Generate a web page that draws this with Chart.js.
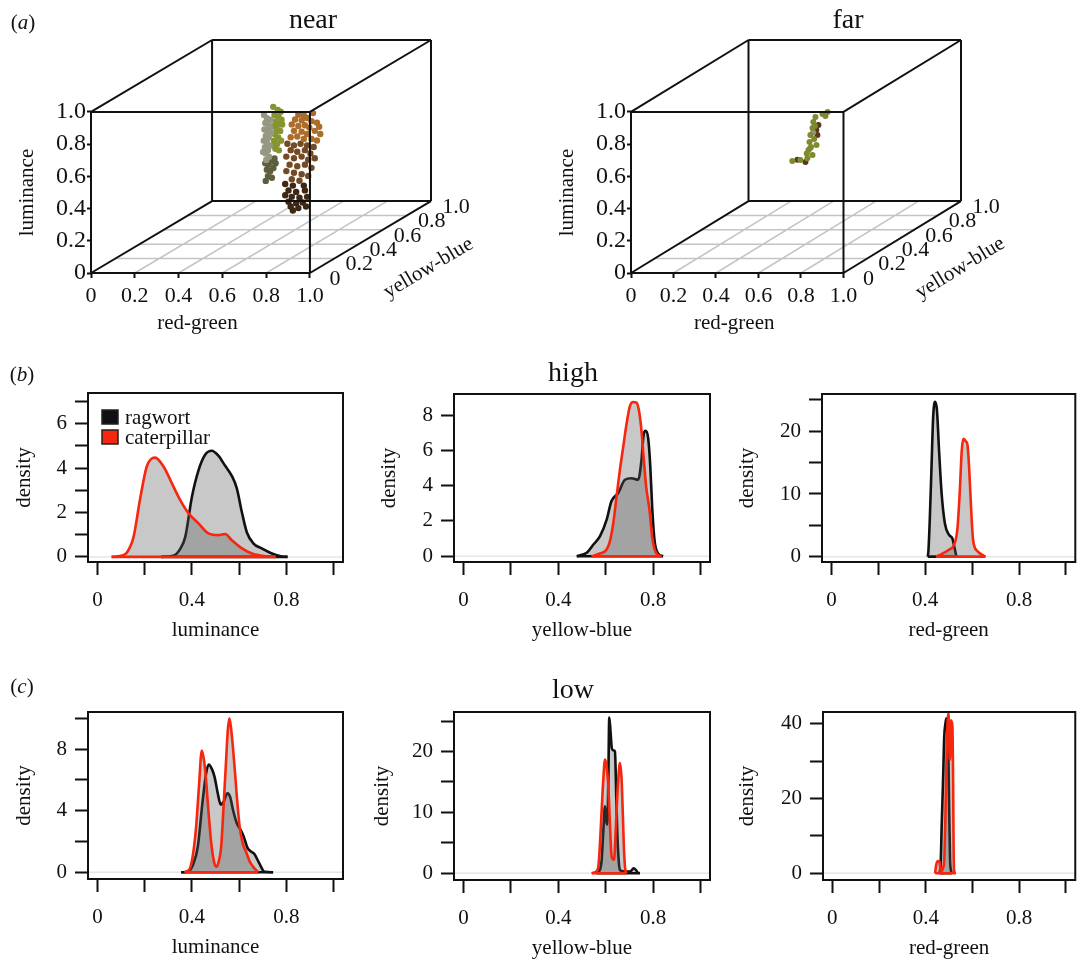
<!DOCTYPE html>
<html>
<head>
<meta charset="utf-8">
<script src="https://cdn.jsdelivr.net/npm/chart.js@4.4.1/dist/chart.umd.min.js"></script>
<style>
  body { margin: 0; background: #fff; }
  #fig { position: relative; width: 1079px; height: 962px; background: #fff;
         font-family: "Liberation Serif", "Times New Roman", serif; color: #111; overflow: hidden; }
  #fig canvas { position: absolute; }
  .lbl { position: absolute; white-space: nowrap; transform: translate(-50%, -50%); line-height: 1; }
</style>
</head>
<body>
<div id="fig">
  <canvas id="near" width="540" height="340" style="left:0;top:0"></canvas>
  <canvas id="far" width="539" height="340" style="left:540px;top:0"></canvas>
  <canvas id="highLum" width="360" height="300" style="left:0;top:360px"></canvas>
  <canvas id="highYB" width="360" height="300" style="left:360px;top:360px"></canvas>
  <canvas id="highRG" width="359" height="300" style="left:720px;top:360px"></canvas>
  <canvas id="lowLum" width="360" height="282" style="left:0;top:680px"></canvas>
  <canvas id="lowYB" width="360" height="282" style="left:360px;top:680px"></canvas>
  <canvas id="lowRG" width="359" height="282" style="left:720px;top:680px"></canvas>

  <div class="lbl" style="left:23px;top:22px;font-size:21px">(<i>a</i>)</div>
  <div class="lbl" style="left:313px;top:19px;font-size:28px">near</div>
  <div class="lbl" style="left:848px;top:19px;font-size:28px">far</div>
  <div class="lbl" style="left:22px;top:374px;font-size:21px">(<i>b</i>)</div>
  <div class="lbl" style="left:573px;top:372px;font-size:28px">high</div>
  <div class="lbl" style="left:22px;top:686px;font-size:21px">(<i>c</i>)</div>
  <div class="lbl" style="left:573px;top:689px;font-size:28px">low</div>
</div>

<script>
// ---- data ----
const seriesNames = ["ragwort", "caterpillar"];
const cubeTicks = [0, 0.2, 0.4, 0.6, 0.8, 1.0];
const floorLines = [0.2, 0.4, 0.6, 0.8];
const xTickValues = [0, 0.2, 0.4, 0.6, 0.8, 1.0];
const xTickLabelled = [0, 0.4, 0.8];

// 3D colour samples: [red-green, yellow-blue, luminance]
const nearRagwortPale = [
  [0.392,0.72,0.66],[0.405,0.72,0.64],[0.398,0.72,0.61],[0.412,0.72,0.60],[0.394,0.72,0.57],
  [0.408,0.72,0.56],[0.42,0.72,0.58],[0.40,0.72,0.53],[0.414,0.72,0.52],[0.391,0.72,0.50],
  [0.405,0.72,0.49],[0.418,0.72,0.47],[0.396,0.72,0.46],[0.41,0.72,0.44],[0.40,0.72,0.42],
  [0.388,0.72,0.43],[0.415,0.72,0.40],[0.402,0.72,0.38],[0.425,0.72,0.55],[0.422,0.72,0.63]
];
const nearRagwortGreen = [
  [0.434,0.72,0.71],[0.455,0.72,0.69],[0.468,0.72,0.68],[0.44,0.72,0.66],[0.458,0.72,0.65],
  [0.472,0.72,0.63],[0.445,0.72,0.62],[0.46,0.72,0.60],[0.435,0.72,0.59],[0.45,0.72,0.57],
  [0.466,0.72,0.56],[0.442,0.72,0.54],[0.457,0.72,0.52],[0.47,0.72,0.50],[0.438,0.72,0.50],
  [0.452,0.72,0.48],[0.444,0.72,0.45],[0.46,0.72,0.44],[0.432,0.72,0.47],[0.475,0.72,0.60]
];
const nearRagwortDark = [
  [0.398,0.72,0.36],[0.412,0.72,0.35],[0.425,0.72,0.37],[0.44,0.72,0.39],[0.405,0.72,0.32],
  [0.42,0.72,0.31],[0.435,0.72,0.33],[0.41,0.72,0.28],[0.428,0.72,0.27],[0.40,0.72,0.25],
  [0.445,0.72,0.36]
];
const nearCaterpillarOrange = [
  [0.627,0.70,0.68],[0.56,0.70,0.67],[0.585,0.70,0.665],[0.60,0.70,0.65],[0.545,0.70,0.64],
  [0.575,0.70,0.635],[0.62,0.70,0.63],[0.645,0.70,0.62],[0.53,0.70,0.61],[0.56,0.70,0.60],
  [0.59,0.70,0.605],[0.61,0.70,0.59],[0.655,0.70,0.595],[0.54,0.70,0.57],[0.575,0.70,0.565],
  [0.635,0.70,0.57],[0.60,0.70,0.55],[0.66,0.70,0.55],[0.525,0.70,0.53],[0.555,0.70,0.535],
  [0.62,0.70,0.52],[0.645,0.70,0.51],[0.585,0.70,0.52]
];
const nearCaterpillarBrown = [
  [0.51,0.70,0.49],[0.54,0.70,0.48],[0.57,0.70,0.49],[0.60,0.70,0.48],[0.63,0.70,0.47],
  [0.525,0.70,0.45],[0.555,0.70,0.44],[0.59,0.70,0.45],[0.615,0.70,0.43],[0.505,0.70,0.41],
  [0.54,0.70,0.40],[0.575,0.70,0.41],[0.605,0.70,0.39],[0.635,0.70,0.40],[0.52,0.70,0.36],
  [0.555,0.70,0.35],[0.59,0.70,0.36],[0.62,0.70,0.34],[0.505,0.70,0.32],[0.54,0.70,0.31],
  [0.575,0.70,0.30],[0.605,0.70,0.29],[0.53,0.70,0.27],[0.565,0.70,0.26]
];
const nearCaterpillarDark = [
  [0.50,0.70,0.24],[0.535,0.70,0.23],[0.585,0.70,0.23],[0.515,0.70,0.20],[0.55,0.70,0.19],
  [0.59,0.70,0.20],[0.50,0.70,0.17],[0.53,0.70,0.16],[0.565,0.70,0.155],[0.60,0.70,0.16],
  [0.515,0.70,0.13],[0.55,0.70,0.12],[0.58,0.70,0.125],[0.525,0.70,0.10],[0.56,0.70,0.09],
  [0.535,0.70,0.075],[0.595,0.70,0.10]
];
const farGreen = [
  [0.372,0.7,0.383],[0.41,0.7,0.389],[0.443,0.7,0.40],[0.448,0.7,0.451],[0.453,0.7,0.50],
  [0.457,0.7,0.544],[0.467,0.7,0.588],[0.471,0.7,0.625],[0.481,0.7,0.656],[0.486,0.7,0.482],
  [0.467,0.7,0.42],[0.514,0.7,0.675],[0.538,0.7,0.687],[0.528,0.7,0.662],[0.46,0.7,0.47],
  [0.475,0.7,0.52],[0.478,0.7,0.60],[0.44,0.7,0.43]
];
const farBrown = [[0.495,0.7,0.606],[0.49,0.7,0.544],[0.396,0.7,0.39],[0.434,0.7,0.376],[0.485,0.7,0.575]];
const farPale = [[0.47,0.7,0.56],[0.455,0.7,0.46]];

// density curves: [value, density]
const highLuminanceRagwort = [[0.27,0],[0.32,0.05],[0.35,0.35],[0.372,0.9],[0.4,2.7],[0.428,3.9],[0.456,4.6],[0.484,4.78],[0.513,4.55],[0.541,4.1],[0.569,3.65],[0.59,3.1],[0.612,2.0],[0.633,1.1],[0.661,0.6],[0.696,0.38],[0.739,0.15],[0.78,0.02],[0.805,0]];
const highLuminanceCaterpillar = [[0.06,0],[0.1,0.05],[0.125,0.2],[0.153,0.9],[0.18,2.57],[0.209,4.07],[0.244,4.47],[0.28,4.07],[0.315,3.32],[0.35,2.57],[0.386,1.96],[0.428,1.51],[0.47,1.06],[0.513,0.98],[0.541,1.03],[0.569,0.75],[0.612,0.38],[0.654,0.15],[0.71,0.03],[0.755,0]];
const highYellowBlueRagwort = [[0.478,0],[0.52,0.19],[0.548,0.66],[0.576,1.13],[0.604,2.07],[0.624,3.11],[0.653,3.58],[0.681,4.33],[0.709,4.42],[0.737,4.33],[0.751,5.46],[0.76,6.9],[0.768,7.1],[0.779,6.7],[0.788,5.1],[0.796,2.8],[0.806,0.9],[0.821,0.16],[0.842,0]];
const highYellowBlueCaterpillar = [[0.541,0],[0.576,0.15],[0.604,0.38],[0.618,0.85],[0.632,1.88],[0.646,3.4],[0.66,4.9],[0.674,6.2],[0.688,7.5],[0.702,8.5],[0.716,8.74],[0.73,8.7],[0.741,8.2],[0.751,7.1],[0.76,5.6],[0.771,3.9],[0.785,2.6],[0.796,1.1],[0.806,0.4],[0.817,0.1],[0.835,0]];
const highRedGreenRagwort = [[0.411,0],[0.414,1.07],[0.42,6.4],[0.427,14.4],[0.434,22.3],[0.442,24.7],[0.45,23.4],[0.459,17.0],[0.47,10.1],[0.484,5.3],[0.501,3.5],[0.516,2.9],[0.524,1.6],[0.533,0]];
const highRedGreenCaterpillar = [[0.446,0],[0.474,0.5],[0.501,1.1],[0.523,1.9],[0.537,4.3],[0.547,10.1],[0.556,17.0],[0.563,18.8],[0.573,18.4],[0.58,17.9],[0.587,14.4],[0.596,7.5],[0.604,2.7],[0.622,0.9],[0.643,0.3],[0.657,0]];
const lowLuminanceRagwort = [[0.355,0],[0.385,0.05],[0.405,0.5],[0.425,1.66],[0.446,4.7],[0.46,6.4],[0.471,7.0],[0.485,6.7],[0.496,6.2],[0.51,5.1],[0.522,4.4],[0.535,4.6],[0.55,5.13],[0.562,4.9],[0.575,4.0],[0.59,3.2],[0.607,2.74],[0.62,2.3],[0.635,1.6],[0.65,1.35],[0.664,1.2],[0.685,0.6],[0.708,0.03],[0.744,0]];
const lowLuminanceCaterpillar = [[0.369,0],[0.39,0.2],[0.405,1.2],[0.418,2.97],[0.43,5.6],[0.442,7.9],[0.452,7.2],[0.46,6.0],[0.47,4.0],[0.482,1.9],[0.495,0.6],[0.503,0.37],[0.512,0.6],[0.524,1.66],[0.535,4.5],[0.545,7.3],[0.552,9.2],[0.559,10.0],[0.567,9.2],[0.58,7.0],[0.59,5.0],[0.602,3.0],[0.615,1.9],[0.63,1.3],[0.645,0.7],[0.659,0.37],[0.68,0]];
const lowYellowBlueRagwort = [[0.562,0],[0.575,0.5],[0.583,2.2],[0.59,7],[0.597,11.0],[0.603,8.5],[0.607,8],[0.611,15],[0.615,25.6],[0.62,23.5],[0.626,20.5],[0.632,20.2],[0.639,20],[0.645,12],[0.649,6.6],[0.655,2],[0.66,0.55],[0.675,0.3],[0.69,0.27],[0.705,0.3],[0.718,0.8],[0.728,0.5],[0.735,0.1],[0.744,0]];
const lowYellowBlueCaterpillar = [[0.541,0],[0.56,0.3],[0.569,1.1],[0.576,5],[0.583,10.4],[0.59,15.5],[0.597,18.7],[0.604,17.5],[0.611,14.3],[0.618,8],[0.625,2.75],[0.635,2.2],[0.64,5],[0.646,10.4],[0.653,15.5],[0.66,18.1],[0.667,15.5],[0.672,10],[0.677,4],[0.682,0.8],[0.688,0]];
const lowRedGreenRagwort = [[0.459,0],[0.464,3],[0.468,12.5],[0.474,25],[0.479,36.6],[0.484,40],[0.488,41.5],[0.492,39],[0.496,34.8],[0.5,18],[0.504,3.6],[0.508,0.8],[0.511,0]];
const lowRedGreenCaterpillar = [[0.44,0],[0.444,2],[0.449,3.1],[0.455,3.3],[0.459,3.1],[0.463,0.6],[0.468,0.4],[0.474,1.5],[0.479,3.6],[0.484,15],[0.49,34.8],[0.494,41],[0.497,42.9],[0.5,38],[0.502,31],[0.504,30.4],[0.506,38],[0.508,41],[0.511,40.5],[0.514,39.3],[0.517,25],[0.519,8],[0.521,0.9],[0.528,0]];

// ---- styles ----
const SERIF = '"Liberation Serif", "Times New Roman", serif';
const INK = "#111";
const RED = "#f7260e";
const FILL = "rgba(87,87,87,0.33)";
const DEPTH = { x: 0.553, y: 0.447 }; // oblique offset of the yellow-blue axis

Chart.defaults.font.family = SERIF;
Chart.defaults.color = INK;
Chart.defaults.animation = false;
Chart.defaults.plugins.legend.display = false;
Chart.defaults.plugins.tooltip.enabled = false;

const fmt1 = (v) => (v === 0 ? "0" : v.toFixed(1));
const project = (p) => ({ x: p[0] + p[1] * DEPTH.x, y: p[2] + p[1] * DEPTH.y });
const toXY = (arr) => arr.map((d) => ({ x: d[0], y: d[1] }));

// ---- plugins ----
const frameBox = {
  id: "frameBox",
  afterDatasetsDraw(chart) {
    const { ctx, chartArea: a } = chart;
    ctx.save();
    ctx.strokeStyle = INK;
    ctx.lineWidth = 2;
    ctx.strokeRect(a.left, a.top, a.right - a.left, a.bottom - a.top);
    ctx.restore();
  },
};

const swatchLegend = {
  id: "swatchLegend",
  afterDraw(chart, args, opts) {
    if (!opts.items) return;
    const { ctx, chartArea: a } = chart;
    ctx.save();
    ctx.font = "21px " + SERIF;
    ctx.textBaseline = "middle";
    opts.items.forEach((it, i) => {
      const y = a.top + 24 + i * 20;
      ctx.fillStyle = it.color;
      ctx.strokeStyle = "#222";
      ctx.lineWidth = 1.5;
      ctx.fillRect(a.left + 14, y - 7, 16, 14);
      ctx.strokeRect(a.left + 14, y - 7, 16, 14);
      ctx.fillStyle = INK;
      ctx.fillText(it.text, a.left + 37, y + 1);
    });
    ctx.restore();
  },
};

// labels of the 3D box: depth axis ticks and the three axis titles
const cubeLabels = {
  id: "cubeLabels",
  afterDraw(chart) {
    const { ctx, scales, chartArea } = chart;
    const px = (p) => {
      const q = project(p);
      return [scales.x.getPixelForValue(q.x), scales.y.getPixelForValue(q.y)];
    };
    ctx.save();
    ctx.fillStyle = INK;
    ctx.textAlign = "center";
    ctx.textBaseline = "middle";
    ctx.font = "22px " + SERIF;
    cubeTicks.forEach((v) => {
      const [u, w] = px([1, v, 0]);
      ctx.fillText(fmt1(v), u + 25, w + 6);
    });
    ctx.font = "21px " + SERIF;
    const [cx] = px([0.5, 0, 0]);
    ctx.fillText("red-green", cx - 3, chartArea.bottom + 50);
    const [, cy] = px([0, 0, 0.5]);
    ctx.save();
    ctx.translate(chartArea.left - 64, cy);
    ctx.rotate(-Math.PI / 2);
    ctx.fillText("luminance", 0, 0);
    ctx.restore();
    const [a0, b0] = px([1, 0, 0]);
    const [a1, b1] = px([1, 1, 0]);
    const [mx, my] = px([1, 0.5, 0]);
    ctx.translate(mx + 58, my + 31);
    ctx.rotate(Math.atan2(b1 - b0, a1 - a0));
    ctx.fillText("yellow-blue", 0, 0);
    ctx.restore();
  },
};

// ---- 3D panels ----
function cubeChart(id, groups, padRight) {
  const edges = [];
  const corners = [];
  for (let i = 0; i < 8; i++) corners.push([i & 1, (i >> 1) & 1, (i >> 2) & 1]);
  corners.forEach((c, i) => {
    corners.forEach((d, j) => {
      const diff = c.reduce((s, v, k) => s + Math.abs(v - d[k]), 0);
      if (j > i && diff === 1) {
        edges.push(project(c), project(d), { x: NaN, y: NaN });
      }
    });
  });
  const floor = [];
  floorLines.forEach((v) => {
    floor.push(project([v, 0, 0]), project([v, 1, 0]), { x: NaN, y: NaN });
    floor.push(project([0, v, 0]), project([1, v, 0]), { x: NaN, y: NaN });
  });

  const datasets = [
    { data: edges, showLine: true, borderColor: INK, borderWidth: 2, pointRadius: 0, clip: false, order: 0 },
    { data: floor, showLine: true, borderColor: "#c4c4c4", borderWidth: 1.5, pointRadius: 0, clip: false, order: 9 },
  ];
  groups.forEach((g) => {
    datasets.push({
      data: g.points.map(project),
      backgroundColor: g.color,
      borderWidth: 0,
      pointRadius: g.radius,
      clip: false,
      order: 5,
    });
  });

  new Chart(document.getElementById(id), {
    type: "scatter",
    data: { datasets },
    options: {
      responsive: false,
      layout: { padding: { left: 0, top: 40, right: padRight, bottom: 4 } },
      scales: {
        x: {
          type: "linear",
          min: 0,
          max: 1 + DEPTH.x,
          afterBuildTicks: (s) => { s.ticks = cubeTicks.map((v) => ({ value: v })); },
          afterFit: (s) => { s.height = 63; },
          ticks: { callback: (v) => fmt1(v), padding: 5, autoSkip: false, maxRotation: 0, font: { size: 22, family: SERIF } },
          grid: { drawOnChartArea: false, tickLength: 5, tickWidth: 2, tickColor: INK },
          border: { display: false },
        },
        y: {
          min: 0,
          max: 1 + DEPTH.y,
          afterBuildTicks: (s) => { s.ticks = cubeTicks.map((v) => ({ value: v })); },
          afterFit: (s) => { s.width = 91; },
          ticks: { callback: (v) => fmt1(v), padding: 1, autoSkip: false, font: { size: 24, family: SERIF } },
          grid: { drawOnChartArea: false, tickLength: 4, tickWidth: 2, tickColor: INK },
          border: { display: false },
        },
      },
    },
    plugins: [cubeLabels],
  });
}

cubeChart("near", [
  { points: nearRagwortPale, color: "#979884", radius: 3.2 },
  { points: nearRagwortGreen, color: "#86952f", radius: 3.2 },
  { points: nearRagwortDark, color: "#5d5e3e", radius: 3.2 },
  { points: nearCaterpillarOrange, color: "#aa6d2a", radius: 3.2 },
  { points: nearCaterpillarBrown, color: "#744a24", radius: 3.2 },
  { points: nearCaterpillarDark, color: "#3d2816", radius: 3.2 },
], 109);

cubeChart("far", [
  { points: farGreen, color: "#7d8a2e", radius: 3 },
  { points: farPale, color: "#a08c7a", radius: 3 },
  { points: farBrown, color: "#5a3820", radius: 3 },
], 118);

// ---- density panels ----
function densityChart(id, p) {
  const font = { size: 21, family: SERIF };
  const curve = (arr, color, order) => ({
    data: toXY(arr), borderColor: color, backgroundColor: FILL, fill: "origin",
    cubicInterpolationMode: "monotone", order,
  });
  const base = (arr, color, order) => ({
    data: [{ x: arr[0][0], y: 0 }, { x: arr[arr.length - 1][0], y: 0 }],
    borderColor: color, fill: false, order,
  });
  new Chart(document.getElementById(id), {
    type: "line",
    data: {
      datasets: [
        { data: [{ x: -0.04, y: 0 }, { x: 1.04, y: 0 }], borderColor: "#e6e6e6", borderWidth: 1.5, fill: false, order: 9 },
        curve(p.ragwort, INK, 4),
        base(p.ragwort, INK, 3),
        curve(p.caterpillar, RED, 2),
        base(p.caterpillar, RED, 1),
      ],
    },
    options: {
      responsive: false,
      elements: { point: { radius: 0 }, line: { borderWidth: 2.6 } },
      layout: { padding: { left: 0, top: p.padTop, right: p.padRight, bottom: p.padBottom } },
      scales: {
        x: {
          type: "linear",
          min: -0.04,
          max: 1.04,
          afterBuildTicks: (s) => { s.ticks = xTickValues.map((v) => ({ value: v })); },
          afterFit: (s) => { s.height = 81; },
          ticks: { callback: (v) => (xTickLabelled.includes(v) ? String(v) : ""), padding: 13, autoSkip: false, maxRotation: 0, font },
          grid: { drawOnChartArea: false, tickLength: 13, tickWidth: 2, tickColor: INK },
          border: { display: false },
          title: { display: true, text: p.xTitle, font, padding: { top: 0, bottom: 0 } },
        },
        y: {
          min: p.yMin,
          max: p.yMax,
          afterBuildTicks: (s) => { s.ticks = p.yTicks.map((v) => ({ value: v })); },
          afterFit: (s) => { s.width = p.yWidth; },
          ticks: { callback: (v) => (p.yLabelled.includes(v) ? String(v) : ""), padding: 8, autoSkip: false, font },
          grid: { drawOnChartArea: false, tickLength: 13, tickWidth: 2, tickColor: INK },
          border: { display: false },
          title: { display: true, text: "density", font, padding: { top: p.yTitlePad, bottom: 0 } },
        },
      },
      plugins: { swatchLegend: { items: p.legend } },
    },
    plugins: [frameBox, swatchLegend],
  });
}

const legendItems = [
  { text: seriesNames[0], color: INK },
  { text: seriesNames[1], color: RED },
];

densityChart("highLum", {
  ragwort: highLuminanceRagwort, caterpillar: highLuminanceCaterpillar, xTitle: "luminance",
  yMin: -0.23, yMax: 7.38, yTicks: [0, 1, 2, 3, 4, 5, 6, 7], yLabelled: [0, 2, 4, 6],
  yWidth: 88, yTitlePad: 12, padTop: 33, padRight: 17, padBottom: 17, legend: legendItems,
});
densityChart("highYB", {
  ragwort: highYellowBlueRagwort, caterpillar: highYellowBlueCaterpillar, xTitle: "yellow-blue",
  yMin: -0.33, yMax: 9.19, yTicks: [0, 2, 4, 6, 8], yLabelled: [0, 2, 4, 6, 8],
  yWidth: 94, yTitlePad: 17, padTop: 34, padRight: 10, padBottom: 17,
});
densityChart("highRG", {
  ragwort: highRedGreenRagwort, caterpillar: highRedGreenCaterpillar, xTitle: "red-green",
  yMin: -0.85, yMax: 25.95, yTicks: [0, 5, 10, 15, 20, 25], yLabelled: [0, 10, 20],
  yWidth: 102, yTitlePad: 15, padTop: 34, padRight: 2, padBottom: 17,
});
densityChart("lowLum", {
  ragwort: lowLuminanceRagwort, caterpillar: lowLuminanceCaterpillar, xTitle: "luminance",
  yMin: -0.435, yMax: 10.41, yTicks: [0, 2, 4, 6, 8, 10], yLabelled: [0, 4, 8],
  yWidth: 88, yTitlePad: 12, padTop: 32, padRight: 17, padBottom: 2,
});
densityChart("lowYB", {
  ragwort: lowYellowBlueRagwort, caterpillar: lowYellowBlueCaterpillar, xTitle: "yellow-blue",
  yMin: -1.12, yMax: 26.5, yTicks: [0, 5, 10, 15, 20, 25], yLabelled: [0, 10, 20],
  yWidth: 94, yTitlePad: 10, padTop: 32, padRight: 10, padBottom: 1,
});
densityChart("lowRG", {
  ragwort: lowRedGreenRagwort, caterpillar: lowRedGreenCaterpillar, xTitle: "red-green",
  yMin: -1.8, yMax: 43.2, yTicks: [0, 10, 20, 30, 40], yLabelled: [0, 20, 40],
  yWidth: 103, yTitlePad: 15, padTop: 32, padRight: 2, padBottom: 1,
});
</script>
</body>
</html>
